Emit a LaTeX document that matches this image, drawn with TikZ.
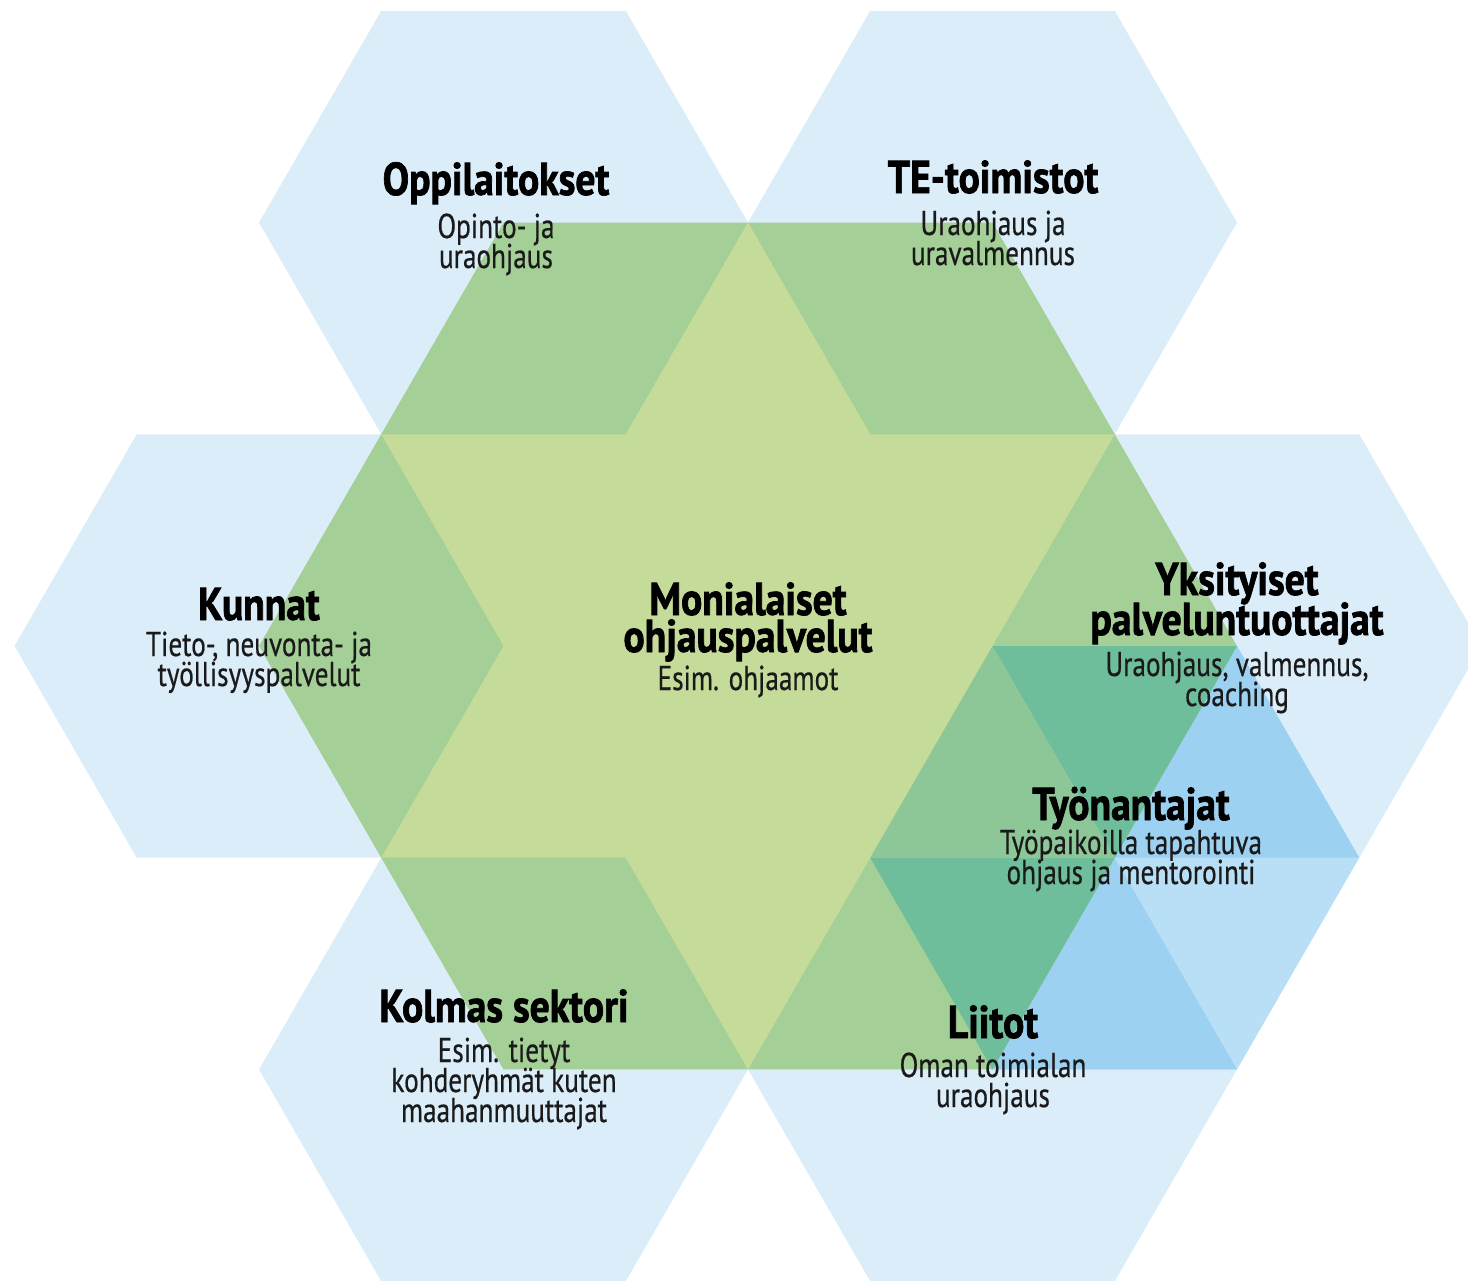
\documentclass[tikz,border=0pt]{standalone}
\usepackage{fontspec}
\setmainfont{PT Sans}
\newfontfamily\titlefont{PT Sans}[FakeStretch=0.86, FakeBold=1.5]
\newfontfamily\subfont{PT Sans}[FakeStretch=0.79, FakeBold=0.5]
\definecolor{hexblue}{HTML}{DCEDFA}
\definecolor{tblue}{HTML}{B9DFF6}
\definecolor{dblue}{HTML}{9DD1F2}
\definecolor{rgreen}{HTML}{A4CF96}
\definecolor{stargreen}{HTML}{C5DB9A}
\definecolor{tealg}{HTML}{6EBE9B}
\definecolor{mgreen}{HTML}{8DC697}
\definecolor{txt}{HTML}{1A1A1A}
\newcommand\hexpath[2]{(#1+244.5,#2) -- (#1+122.25,#2-211.74) -- (#1-122.25,#2-211.74) -- (#1-244.5,#2) -- (#1-122.25,#2+211.74) -- (#1+122.25,#2+211.74) -- cycle}
\tikzset{
  ttl/.style={font=\titlefont\bfseries\fontsize{46}{46}\selectfont, anchor=base, inner sep=0pt, text=black},
  sub/.style={font=\subfont\fontsize{34.5}{34.5}\selectfont, anchor=base, inner sep=0pt, text=txt},
}
\begin{document}
\begin{tikzpicture}[x=1pt,y=-1pt]
\useasboundingbox (0,0) rectangle (1468,1282);
\clip (0,0) rectangle (1468,1282);
% outer hexagons
\fill[hexblue] \hexpath{503.5}{222.52};
\fill[hexblue] \hexpath{992.5}{222.52};
\fill[hexblue] \hexpath{259}{646};
\fill[hexblue] \hexpath{1237}{646};
\fill[hexblue] \hexpath{503.5}{1069.48};
\fill[hexblue] \hexpath{992.5}{1069.48};
% Tyonantajat hexagon
\fill[tblue] \hexpath{1114.75}{857.74};
\fill[dblue] (1114.75,857.74) -- (1359.25,857.74) -- (1237,646) -- cycle;
\fill[dblue] (1114.75,857.74) -- (992.5,1069.48) -- (1237,1069.48) -- cycle;
% big green hexagon
\fill[rgreen] (1237,646) -- (992.5,222.52) -- (503.5,222.52) -- (259,646) -- (503.5,1069.48) -- (992.5,1069.48) -- cycle;
% star
\fill[stargreen] (748,222.52) -- (381.25,857.74) -- (1114.75,857.74) -- cycle;
\fill[stargreen] (748,1069.48) -- (381.25,434.26) -- (1114.75,434.26) -- cycle;
% overlaps with Tyonantajat
\fill[tealg] (1114.75,857.74) -- (1237,646) -- (992.5,646) -- cycle;
\fill[tealg] (1114.75,857.74) -- (870.25,857.74) -- (992.5,1069.48) -- cycle;
\fill[mgreen] (1114.75,857.74) -- (992.5,646) -- (870.25,857.74) -- cycle;
% texts
\node[ttl] (oppT) at (496,195) {Oppilaitokset};
\node[sub] (oppS1) at (496,238) {Opinto- ja};
\node[sub] (oppS2) at (496,268) {uraohjaus};
\node[ttl] (teT) at (993,193) {TE-toimistot};
\node[sub] (teS1) at (993,235) {Uraohjaus ja};
\node[sub] (teS2) at (993,265) {uravalmennus};
\node[ttl] (kuT) at (259,620) {Kunnat};
\node[sub] (kuS1) at (259,656) {Tieto-, neuvonta- ja};
\node[sub] (kuS2) at (259,686) {työllisyyspalvelut};
\node[ttl] (moT1) at (748,615) {Monialaiset};
\node[ttl] (moT2) at (748,652) {ohjauspalvelut};
\node[sub] (moS) at (748,690) {Esim. ohjaamot};
\node[ttl] (ykT1) at (1237,595) {Yksityiset};
\node[ttl] (ykT2) at (1237,635) {palveluntuottajat};
\node[sub] (ykS1) at (1237,676) {Uraohjaus, valmennus,};
\node[sub] (ykS2) at (1237,706) {coaching};
\node[ttl] (tyT) at (1131,820) {Työnantajat};
\node[sub] (tyS1) at (1131,854) {Työpaikoilla tapahtuva};
\node[sub] (tyS2) at (1131,884) {ohjaus ja mentorointi};
\node[ttl] (koT) at (504,1022) {Kolmas sektori};
\node[sub] (koS1) at (504,1062) {Esim. tietyt};
\node[sub] (koS2) at (504,1092) {kohderyhmät kuten};
\node[sub] (koS3) at (504,1122) {maahanmuuttajat};
\node[ttl] (liT) at (993,1038) {Liitot};
\node[sub] (liS1) at (993,1077) {Oman toimialan};
\node[sub] (liS2) at (993,1107) {uraohjaus};
\end{tikzpicture}
\end{document}
